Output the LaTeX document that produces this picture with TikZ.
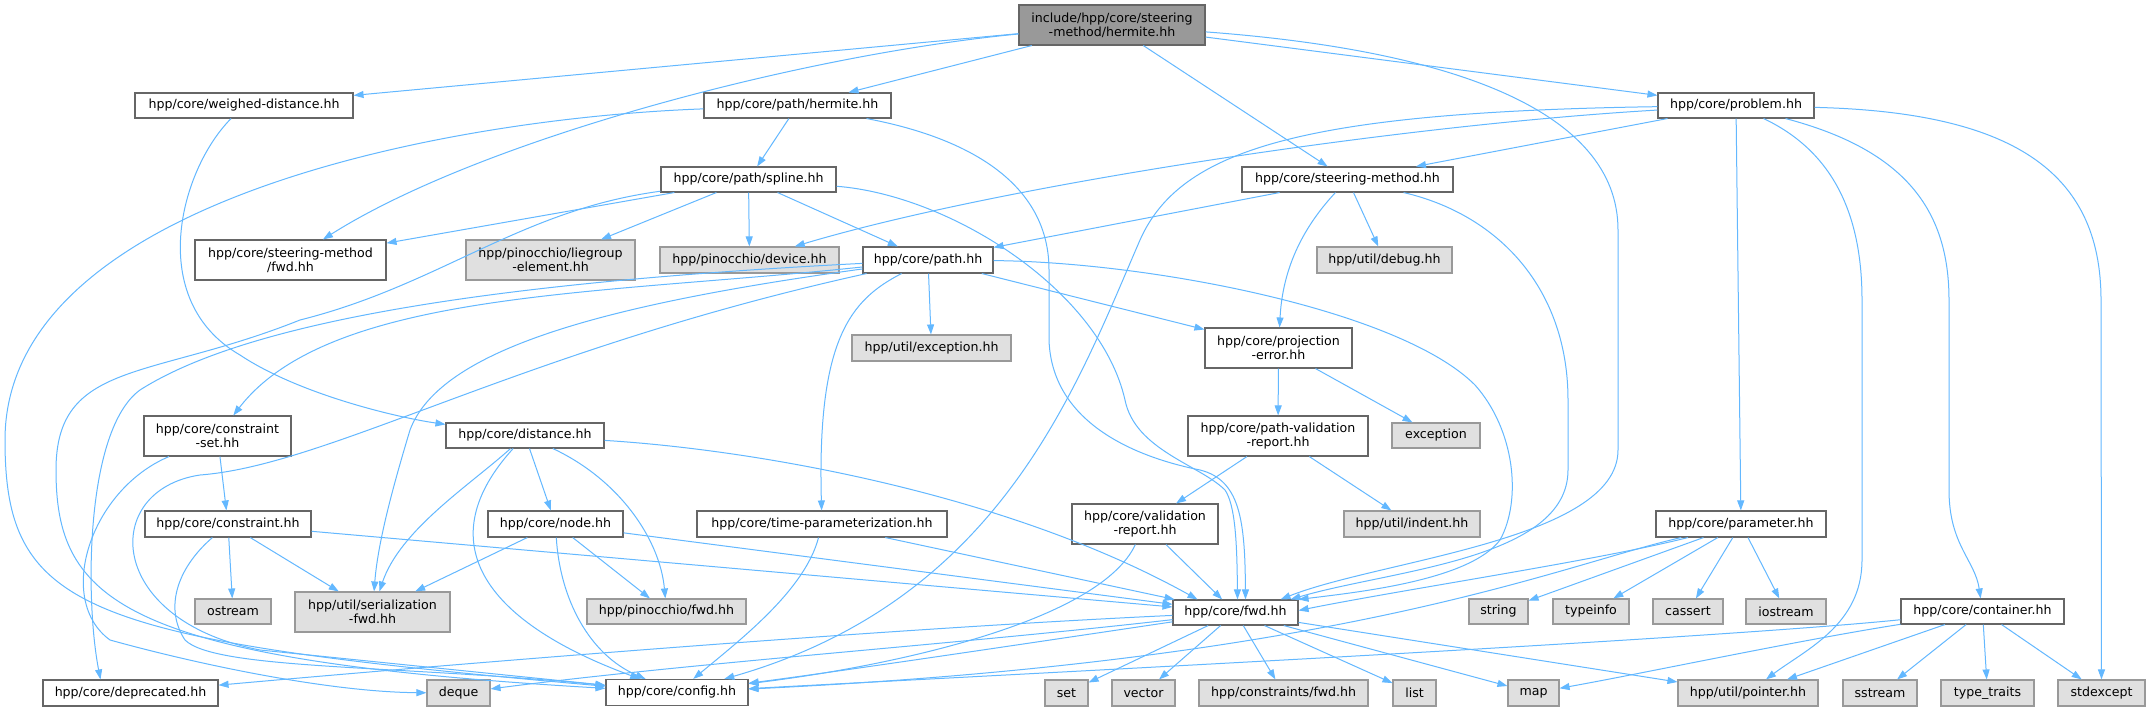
\documentclass[tikz,border=0pt]{standalone}
\usepackage{fontspec}
\setmainfont{DejaVu Sans}
\usetikzlibrary{arrows.meta}
\definecolor{edgeblue}{HTML}{63B8FF}
\definecolor{extgray}{HTML}{E0E0E0}
\definecolor{topgray}{HTML}{999999}
\tikzset{
	hdr/.style={draw=black!60, fill=white, line width=1.1pt, inner sep=0pt, align=center,
		font=\fontsize{12.6}{14}\selectfont},
	syshdr/.style={hdr, draw=black!40, fill=extgray},
	tophdr/.style={hdr, fill=topgray},
	sz/.style 2 args={minimum width=#1pt, minimum height=#2pt},
	inc/.style={draw=edgeblue, line width=1pt, -{Triangle[length=10pt,width=7pt]}},
}

\begin{document}
\begin{tikzpicture}[x=1pt, y=-1pt]
			%%%%% START %%%%%
			\fill[white] (0,0) rectangle (2150,711);
			\useasboundingbox (0,0) rectangle (2150,711);
			
			%%%%% HEADERS %%%%%
			\node[tophdr, sz={186}{40}] (main) at (1112,25) {include/hpp/core/steering\\-method/hermite.hh};
			
			\node[hdr, sz={218}{25}] (wd) at (244,105.5) {hpp/core/weighed-distance.hh};
			\node[hdr, sz={187}{25}] (ph) at (797.5,105.5) {hpp/core/path/hermite.hh};
			\node[hdr, sz={156}{25}] (prob) at (1736,105.5) {hpp/core/problem.hh};
			
			\node[hdr, sz={175}{25}] (spl) at (748.5,179.5) {hpp/core/path/spline.hh};
			\node[hdr, sz={211}{25}] (sm) at (1347.5,179.5) {hpp/core/steering-method.hh};
			
			\node[hdr, sz={191}{40}] (smfwd) at (290.5,260) {hpp/core/steering-method\\/fwd.hh};
			\node[syshdr, sz={169}{40}] (lie) at (550.5,260) {hpp/pinocchio/liegroup\\-element.hh};
			\node[syshdr, sz={179}{26}] (dev) at (749.5,260) {hpp/pinocchio/device.hh};
			\node[hdr, sz={130}{26}] (pth) at (928,260) {hpp/core/path.hh};
			\node[syshdr, sz={135}{26}] (dbg) at (1384.5,260) {hpp/util/debug.hh};
			
			\node[syshdr, sz={159}{26}] (uexc) at (931.5,348) {hpp/util/exception.hh};
			\node[hdr, sz={147}{40}] (proj) at (1278.5,348) {hpp/core/projection\\-error.hh};
			
			\node[hdr, sz={147}{40}] (cset) at (217.5,436) {hpp/core/constraint\\-set.hh};
			\node[hdr, sz={158}{25}] (dist) at (525,435.5) {hpp/core/distance.hh};
			\node[hdr, sz={180}{40}] (pvr) at (1278,436) {hpp/core/path-validation\\-report.hh};
			\node[syshdr, sz={88}{25}] (exc) at (1436,435.5) {exception};
			
			\node[hdr, sz={166}{26}] (cons) at (228,524) {hpp/core/constraint.hh};
			\node[hdr, sz={135}{26}] (nodeh) at (555.5,524) {hpp/core/node.hh};
			\node[hdr, sz={250}{26}] (tp) at (822,524) {hpp/core/time-parameterization.hh};
			\node[hdr, sz={146}{40}] (vr) at (1145,524) {hpp/core/validation\\-report.hh};
			\node[syshdr, sz={136}{26}] (ind) at (1412,524) {hpp/util/indent.hh};
			\node[hdr, sz={170}{26}] (par) at (1741,524) {hpp/core/parameter.hh};
			
			\node[syshdr, sz={76}{25}] (ost) at (233,611.5) {ostream};
			\node[syshdr, sz={155}{40}] (ser) at (372.5,612) {hpp/util/serialization\\-fwd.hh};
			\node[syshdr, sz={159}{25}] (pfwd) at (666.5,611.5) {hpp/pinocchio/fwd.hh};
			\node[hdr, sz={125}{25}] (fwd) at (1235.5,612.5) {hpp/core/fwd.hh};
			\node[syshdr, sz={59}{25}] (str) at (1498.5,611.5) {string};
			\node[syshdr, sz={76}{25}] (tinfo) at (1591,611.5) {typeinfo};
			\node[syshdr, sz={70}{25}] (cass) at (1688,611.5) {cassert};
			\node[syshdr, sz={80}{25}] (ios) at (1786,611.5) {iostream};
			\node[hdr, sz={163}{25}] (cont) at (1982.5,611.5) {hpp/core/container.hh};
			
			\node[hdr, sz={175}{26}] (dep) at (130.5,693) {hpp/core/deprecated.hh};
			\node[syshdr, sz={63}{26}] (deq) at (458.5,693) {deque};
			\node[hdr, sz={142}{26}] (cfg) at (677,692.5) {hpp/core/config.hh};
			\node[syshdr, sz={43}{26}] (stdset) at (1066.5,693) {set};
			\node[syshdr, sz={63}{26}] (vec) at (1143.5,693) {vector};
			\node[syshdr, sz={169}{26}] (cfwd) at (1283.5,693) {hpp/constraints/fwd.hh};
			\node[syshdr, sz={43}{26}] (stdlist) at (1414.5,693) {list};
			\node[syshdr, sz={51}{26}] (stdmap) at (1533.5,693) {map};
			\node[syshdr, sz={140}{26}] (ptr) at (1748,693) {hpp/util/pointer.hh};
			\node[syshdr, sz={74}{26}] (sst) at (1880,693) {sstream};
			\node[syshdr, sz={93}{26}] (tt) at (1987.5,693) {type\_traits};
			\node[syshdr, sz={87}{26}] (sexc) at (2101.5,693) {stdexcept};
			
			%%%%% INCLUDES %%%%%
			\draw[inc] (main) -- (wd);
			\draw[inc] (main) -- (ph);
			\draw[inc] (main) .. controls (800,55) and (480,140) .. (smfwd);
			\draw[inc] (main) -- (sm);
			\draw[inc] (main) -- (prob);
			\draw[inc] (main) .. controls (1450,50) and (1618,110) .. (1618,230) -- (1618,450) .. controls (1618,540) and (1380,560) .. ([xshift=-18pt]fwd.north east);
			
			\draw[inc] (ph) -- (spl);
			\draw[inc] (ph) .. controls (450,118) and (5,200) .. (5,440) .. controls (5,610) and (80,640) .. (cfg);
			\draw[inc] (ph) .. controls (980,140) and (1049,190) .. (1049,270) -- (1049,340) .. controls (1052,430) and (1150,460) .. (1200,470) .. controls (1240,480) and (1245,520) .. ([xshift=10pt]fwd.north);
			
			\draw[inc] (spl) -- (smfwd);
			\draw[inc] (spl) -- (lie);
			\draw[inc] (spl) -- (dev);
			\draw[inc] (spl) -- (pth);
			\draw[inc] (spl) .. controls (950,195) and (1100,290) .. (1125,400) .. controls (1135,450) and (1200,465) .. (1225,490) .. controls (1235,505) and (1237,540) .. ([xshift=2pt]fwd.north);
			\draw[inc] (spl) .. controls (520,210) and (440,285) .. (300,320) .. controls (150,380) and (56,360) .. (56,470) .. controls (56,600) and (120,660) .. (cfg);
			
			\draw[inc] (pth) .. controls (600,295) and (330,290) .. (cset);
			\draw[inc] (pth) .. controls (500,282) and (250,320) .. (140,390) .. controls (85,430) and (85,600) .. ([xshift=-30pt]dep.north);
			\draw[inc] (pth) .. controls (600,305) and (440,350) .. (410,430) .. controls (395,480) and (378,540) .. (ser);
			\draw[inc] (pth) .. controls (520,350) and (330,465) .. (200,475) .. controls (100,490) and (105,620) .. (260,650) -- (cfg);
			\draw[inc] (pth) .. controls (850,300) and (817,340) .. (tp);
			\draw[inc] (pth) -- (uexc);
			\draw[inc] (pth) -- (proj);
			\draw[inc] (pth) .. controls (1150,262) and (1400,310) .. (1475,385) .. controls (1515,430) and (1522,500) .. (1500,540) .. controls (1470,580) and (1360,592) .. (fwd.north east);
			
			\draw[inc] (sm) -- (pth);
			\draw[inc] (sm) .. controls (1310,220) and (1283,260) .. (proj);
			\draw[inc] (sm) -- (dbg);
			\draw[inc] (sm) .. controls (1500,215) and (1568,290) .. (1568,400) -- (1568,470) .. controls (1568,560) and (1390,570) .. ([xshift=-8pt]fwd.north east);
			
			\draw[inc] (prob) -- (sm);
			\draw[inc] (prob) .. controls (1400,125) and (1000,185) .. (dev);
			\draw[inc] (prob) .. controls (1300,112) and (1180,150) .. (1140,240) .. controls (1075,390) and (1000,600) .. (cfg);
			\draw[inc] (prob) -- (par);
			\draw[inc] (prob) .. controls (1830,150) and (1862,210) .. (1862,300) -- (1862,560) .. controls (1862,625) and (1805,650) .. (ptr);
			\draw[inc] (prob) .. controls (1905,150) and (1949,210) .. (1949,300) -- (1949,490) .. controls (1949,545) and (1975,560) .. (cont);
			\draw[inc] (prob) .. controls (2010,112) and (2101,170) .. (2101,300) -- (sexc);
			
			\draw[inc] (wd) .. controls (180,170) and (145,300) .. (240,355) .. controls (300,395) and (400,418) .. (dist);
			
			\draw[inc] (dist) -- (nodeh);
			\draw[inc] (dist) .. controls (620,480) and (660,540) .. (pfwd);
			\draw[inc] (dist) .. controls (470,485) and (400,530) .. (ser);
			\draw[inc] (dist) .. controls (430,540) and (480,620) .. (cfg);
			\draw[inc] (dist) .. controls (760,450) and (1010,495) .. ([xshift=-38pt]fwd.north);
			
			\draw[inc] (nodeh) -- (ser);
			\draw[inc] (nodeh) -- (pfwd);
			\draw[inc] (nodeh) .. controls (560,600) and (590,655) .. (cfg);
			\draw[inc] (nodeh) -- (fwd);
			
			\draw[inc] (cons) -- (ost);
			\draw[inc] (cons) -- (ser);
			\draw[inc] (cons) .. controls (175,570) and (165,610) .. (185,640) .. controls (215,670) and (400,665) .. (cfg);
			\draw[inc] (cons) -- (fwd);
			
			\draw[inc] (cset) -- (cons);
			\draw[inc] (cset) .. controls (90,490) and (55,600) .. (110,640) .. controls (200,665) and (330,692) .. (deq);
			
			\draw[inc] (proj) -- (pvr);
			\draw[inc] (proj) -- (exc);
			\draw[inc] (pvr) -- (vr);
			\draw[inc] (pvr) -- (ind);
			\draw[inc] (vr) -- (fwd);
			\draw[inc] (vr) .. controls (1100,620) and (900,665) .. (cfg);
			\draw[inc] (tp) -- (fwd);
			\draw[inc] (tp) .. controls (805,590) and (740,640) .. (cfg);
			
			\draw[inc] (par) .. controls (1600,560) and (1400,590) .. ([yshift=2pt]fwd.east);
			\draw[inc] (par) .. controls (1560,565) and (1350,660) .. (cfg);
			\draw[inc] (par) -- (str);
			\draw[inc] (par) -- (tinfo);
			\draw[inc] (par) -- (cass);
			\draw[inc] (par) -- (ios);
			
			\draw[inc] (cont) .. controls (1700,640) and (1000,675) .. (cfg);
			\draw[inc] (cont) .. controls (1800,640) and (1650,672) .. (stdmap);
			\draw[inc] (cont) -- (ptr);
			\draw[inc] (cont) -- (sst);
			\draw[inc] (cont) -- (tt);
			\draw[inc] (cont) -- (sexc);
			
			\draw[inc] (fwd) .. controls (900,628) and (500,660) .. (dep);
			\draw[inc] (fwd) .. controls (950,645) and (700,662) .. (deq);
			\draw[inc] (fwd) .. controls (1050,640) and (850,670) .. (cfg);
			\draw[inc] (fwd) -- (stdset);
			\draw[inc] (fwd) -- (vec);
			\draw[inc] (fwd) -- (cfwd);
			\draw[inc] (fwd) -- (stdlist);
			\draw[inc] (fwd) -- (stdmap);
			\draw[inc] (fwd) -- (ptr);
			
			%%%%% END %%%%%
\end{tikzpicture}
\end{document}
